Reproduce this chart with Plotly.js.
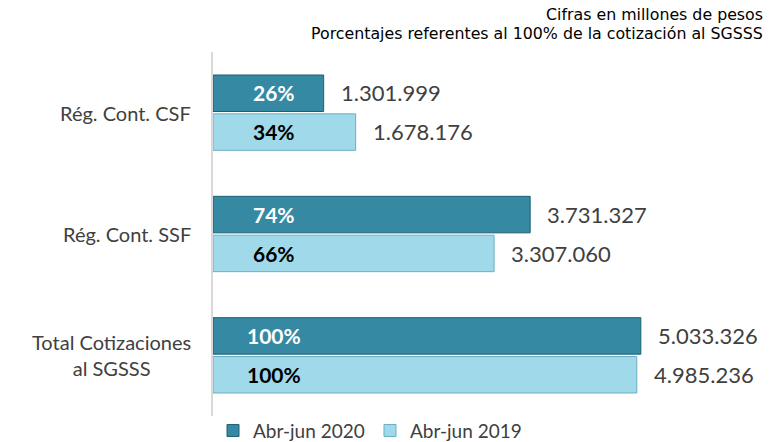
<!DOCTYPE html>
<html><head><meta charset="utf-8">
<script src="https://cdn.plot.ly/plotly-3.0.1.min.js"></script>
<style>html,body{margin:0;padding:0;background:#fff}#chart{width:780px;height:442px}</style>
</head><body><div id="chart"></div>
<script>
const categories = ['Rég. Cont. CSF', 'Rég. Cont. SSF', 'Total Cotizaciones<br>al SGSSS'];
const seriesNames = ['Abr-jun 2020', 'Abr-jun 2019'];
const values2020 = [1301999, 3731327, 5033326];
const values2019 = [1678176, 3307060, 4985236];
const pct2020 = [26, 74, 100];
const pct2019 = [34, 66, 100];
const noteLines = ['Cifras en millones de pesos', 'Porcentajes referentes al 100% de la cotización al SGSSS'];

function fmt(v){ return String(v).replace(/\B(?=(\d{3})+(?!\d))/g, '.'); }

const c2020 = '#3589A3', l2020 = '#1F5F73';
const c2019 = '#A0DAEA', l2019 = '#6AAFC3';
const F = 'Lato, Carlito, sans-serif';

const traces = [
  {type:'bar', orientation:'h', name:seriesNames[0], y:categories, x:values2020,
   marker:{color:c2020, line:{color:l2020, width:1}}, hoverinfo:'none'},
  {type:'bar', orientation:'h', name:seriesNames[1], y:categories, x:values2019,
   marker:{color:c2019, line:{color:l2019, width:1}}, hoverinfo:'none'}
];

const annotations = [];
const lblFont = {family:F, size:22, color:'#404040'};
categories.forEach((c,i)=>{
  annotations.push({x:0, y:c, xref:'paper', yref:'y', text:c, showarrow:false, xanchor:'right', xshift:-20, align:'center', font:{family:F, size:20, color:'#404040'}});
  annotations.push({x:values2020[i], y:c, xref:'x', yref:'y', text:fmt(values2020[i]), showarrow:false, xanchor:'left', xshift:15, yshift:20, font:lblFont});
  annotations.push({x:values2019[i], y:c, xref:'x', yref:'y', text:fmt(values2019[i]), showarrow:false, xanchor:'left', xshift:15, yshift:-19, font:lblFont});
  annotations.push({x:0.12, y:c, xref:'paper', yref:'y', text:'<b>'+pct2020[i]+'%</b>', showarrow:false, xanchor:'center', yshift:20, font:{family:F, size:21, color:'#ffffff'}});
  annotations.push({x:0.12, y:c, xref:'paper', yref:'y', text:'<b>'+pct2019[i]+'%</b>', showarrow:false, xanchor:'center', yshift:-19, font:{family:F, size:21, color:'#000000'}});
});
noteLines.forEach((t,i)=>{
  annotations.push({x:1, y:1, xref:'paper', yref:'paper', text:t, showarrow:false, xanchor:'right', yanchor:'middle',
    xshift:42, yshift:38 - i*19, font:{family:'DejaVu Sans, Verdana, sans-serif', size:15.8, color:'#000000'}});
});

const layout = {
  width:780, height:442,
  margin:{l:213, r:57, t:52, b:26, autoexpand:false},
  paper_bgcolor:'#ffffff', plot_bgcolor:'#ffffff',
  barmode:'group', bargap:0.36, bargroupgap:0.06,
  xaxis:{range:[0, 6000000], visible:false, fixedrange:true},
  yaxis:{autorange:'reversed', showline:true, linecolor:'#d9d9d9', linewidth:2, ticks:'',
    showticklabels:false, showgrid:false, zeroline:false},
  showlegend:true,
  legend:{orientation:'h', x:0, xanchor:'left', y:0.012, yanchor:'top',
    entrywidth:112, entrywidthmode:'pixels',
    font:{family:F, size:19, color:'#404040'}, tracegroupgap:0},
  annotations:annotations
};

Plotly.newPlot('chart', traces, layout, {displayModeBar:false, staticPlot:true});
</script></body></html>
